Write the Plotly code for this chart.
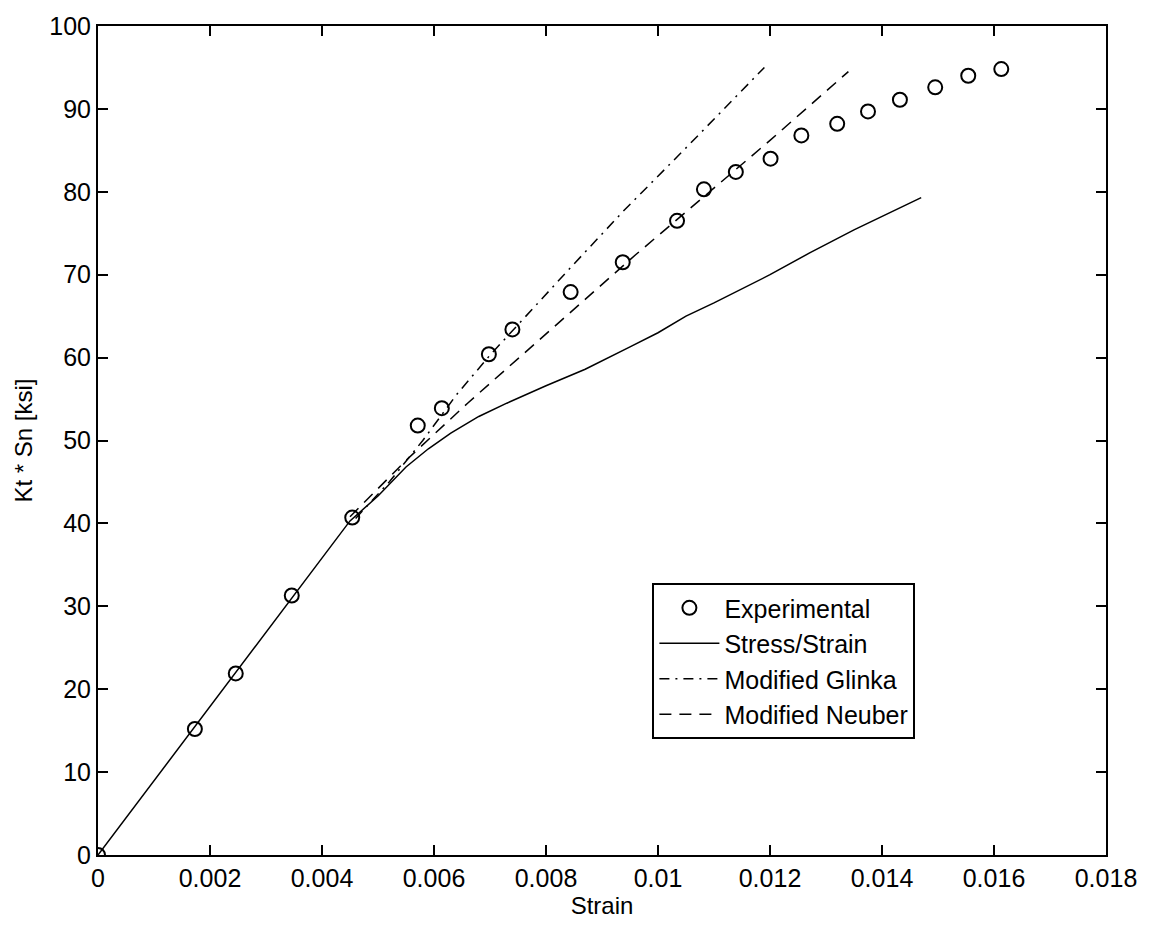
import plotly.graph_objects as go

# Experimental data
exp_strain = [0, 0.00173, 0.00246, 0.00346, 0.00454, 0.00571, 0.00614, 0.00698, 0.0074,
              0.00844, 0.00937, 0.01034, 0.01082, 0.01139, 0.01201, 0.01256, 0.0132,
              0.01375, 0.01432, 0.01495, 0.01554, 0.01613]
exp_stress = [0, 15.2, 21.9, 31.3, 40.7, 51.8, 53.9, 60.4, 63.4, 67.9, 71.5, 76.5, 80.3,
              82.4, 84.0, 86.8, 88.2, 89.7, 91.1, 92.6, 94.0, 94.8]

# Stress/Strain curve
ss_strain = [0, 0.0045, 0.0050, 0.0055, 0.0059, 0.0063, 0.0068, 0.0073, 0.0080, 0.0087,
             0.0095, 0.0100, 0.0105, 0.0110, 0.0120, 0.0127, 0.0135, 0.0147]
ss_stress = [0, 40.3, 43.3, 46.8, 49.0, 50.9, 52.9, 54.5, 56.6, 58.6, 61.3, 63.0, 65.0,
             66.6, 70.0, 72.6, 75.4, 79.3]

# Modified Glinka
gl_strain = [0.0046, 0.0052, 0.0058, 0.0064, 0.0070, 0.0075, 0.0085, 0.0094, 0.0105, 0.0119]
gl_stress = [40.6, 45.0, 50.0, 55.5, 60.3, 64.0, 71.3, 77.8, 85.3, 95.0]

# Modified Neuber
nb_strain = [0.0045, 0.0055, 0.0066, 0.0078, 0.0096, 0.0108, 0.0120, 0.0134]
nb_stress = [40.8, 47.6, 54.5, 61.7, 72.4, 79.3, 86.2, 94.5]

x_tickvals = [0, 0.002, 0.004, 0.006, 0.008, 0.01, 0.012, 0.014, 0.016, 0.018]
x_ticktext = ["0", "0.002", "0.004", "0.006", "0.008", "0.01", "0.012", "0.014", "0.016", "0.018"]
y_tickvals = [0, 10, 20, 30, 40, 50, 60, 70, 80, 90, 100]

FONT = "Liberation Sans, Arial, Helvetica, sans-serif"

fig = go.Figure()
fig.add_trace(go.Scatter(x=exp_strain, y=exp_stress, mode="markers", name="Experimental",
                         marker=dict(symbol="circle-open", size=14, color="black",
                                     line=dict(width=2, color="black"))))
fig.add_trace(go.Scatter(x=ss_strain, y=ss_stress, mode="lines", name="Stress/Strain",
                         line=dict(color="black", width=1.5)))
fig.add_trace(go.Scatter(x=gl_strain, y=gl_stress, mode="lines", name="Modified Glinka",
                         line=dict(color="black", width=1.5, dash="10px,6px,2px,6px")))
fig.add_trace(go.Scatter(x=nb_strain, y=nb_stress, mode="lines", name="Modified Neuber",
                         line=dict(color="black", width=1.5, dash="12px,8px")))

axis_common = dict(showline=True, linecolor="black", linewidth=2, mirror="ticks",
                   ticks="inside", ticklen=10, tickwidth=1.5, tickcolor="black",
                   showgrid=False, zeroline=False,
                   tickfont=dict(family=FONT, size=25, color="black"))

fig.update_xaxes(range=[0, 0.018], tickvals=x_tickvals, ticktext=x_ticktext,
                 title=dict(text="Strain", font=dict(family=FONT, size=24, color="black"), standoff=2),
                 **axis_common)
fig.update_yaxes(range=[0, 100], tickvals=y_tickvals,
                 title=dict(text="Kt * Sn [ksi]", font=dict(family=FONT, size=24, color="black"), standoff=10),
                 **axis_common)

fig.update_layout(
    width=1149, height=927,
    margin=dict(l=98, r=42, t=20, b=72),
    paper_bgcolor="white", plot_bgcolor="white",
    font=dict(family=FONT, color="black"),
    legend=dict(x=0.55, y=0.328, xanchor="left", yanchor="top",
                bgcolor="white", bordercolor="black", borderwidth=2,
                font=dict(family=FONT, size=25, color="black"),
                itemwidth=60, tracegroupgap=0),
)

fig.write_html("out.html")
